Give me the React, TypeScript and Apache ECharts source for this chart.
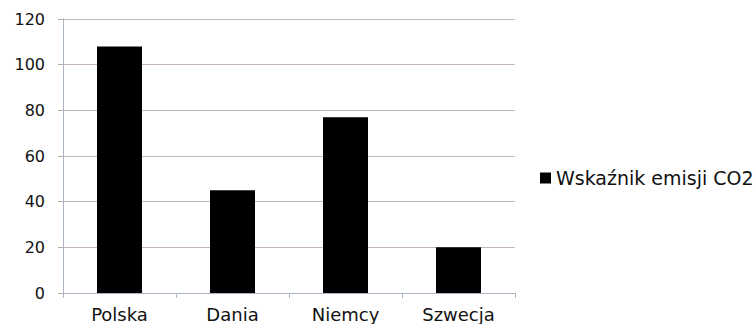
import React, { useEffect, useRef } from "react";
import * as echarts from "echarts";

const categories = ["Polska", "Dania", "Niemcy", "Szwecja"];
const seriesName = "Wskaźnik emisji CO2";
const values = [108, 45, 77, 20];
const yMin = 0;
const yMax = 120;
const yInterval = 20;

export default function App() {
  const ref = useRef<HTMLDivElement>(null);
  useEffect(() => {
    if (!ref.current) return;
    const chart = echarts.init(ref.current, undefined, { renderer: "svg" });
    chart.setOption({
      animation: false,
      backgroundColor: "#ffffff",
      textStyle: { fontFamily: "DejaVu Sans" },
      grid: { left: 63, right: 240, top: 19, bottom: 31, containLabel: false, outerBoundsMode: "none" },
      legend: {
        data: [seriesName],
        left: 535,
        top: 162,
        icon: "rect",
        itemWidth: 11,
        itemHeight: 11,
        itemGap: 6,
        itemStyle: { borderWidth: 0, color: "#000000" },
        textStyle: { fontSize: 19, color: "#111", fontFamily: "DejaVu Sans", lineHeight: 22 },
      },
      xAxis: {
        type: "category",
        data: categories,
        axisLine: { show: true, lineStyle: { color: "#aab6c4", width: 1 } },
        axisTick: { show: true, length: 5, alignWithLabel: false, lineStyle: { color: "#aab6c4" } },
        axisLabel: { fontSize: 18, color: "#111", margin: 12, lineHeight: 18, fontFamily: "DejaVu Sans" },
      },
      yAxis: {
        type: "value",
        min: yMin,
        max: yMax,
        interval: yInterval,
        axisLine: { show: true, lineStyle: { color: "#aab6c4", width: 1 } },
        axisTick: { show: true, length: 5, lineStyle: { color: "#b8aca8" } },
        axisLabel: { fontSize: 16, color: "#111", margin: 18, fontFamily: "DejaVu Sans" },
        splitLine: { show: true, lineStyle: { color: "#c4b6b2", width: 1 } },
      },
      series: [
        {
          name: seriesName,
          type: "bar",
          data: values,
          barWidth: 45,
          itemStyle: { color: "#000000" },
        },
      ],
    });
    return () => chart.dispose();
  }, []);
  return <div ref={ref} style={{ width: 755, height: 324, position: "absolute", left: 0, top: 0 }} />;
}
